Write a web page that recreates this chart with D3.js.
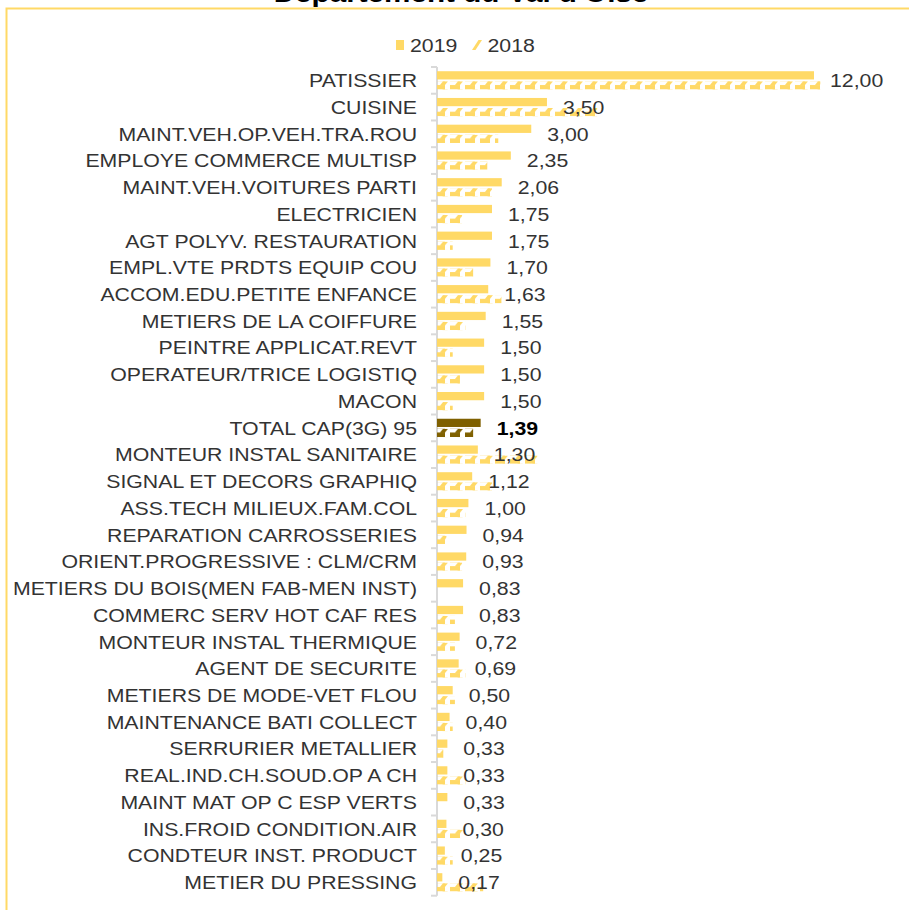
<!DOCTYPE html>
<html>
<head>
<meta charset="utf-8">
<script src="https://cdn.jsdelivr.net/npm/d3@7"></script>
<style>
  body { margin: 0; background: #fff; }
  svg { display: block; font-family: Arial, "Liberation Sans", sans-serif; }
</style>
</head>
<body>
<svg width="909" height="910"></svg>
<script>
// data
var categories = [
  "PATISSIER", "CUISINE", "MAINT.VEH.OP.VEH.TRA.ROU", "EMPLOYE COMMERCE MULTISP",
  "MAINT.VEH.VOITURES PARTI", "ELECTRICIEN", "AGT POLYV. RESTAURATION",
  "EMPL.VTE PRDTS EQUIP COU", "ACCOM.EDU.PETITE ENFANCE", "METIERS DE LA COIFFURE",
  "PEINTRE APPLICAT.REVT", "OPERATEUR/TRICE LOGISTIQ", "MACON", "TOTAL CAP(3G) 95",
  "MONTEUR INSTAL SANITAIRE", "SIGNAL ET DECORS GRAPHIQ", "ASS.TECH MILIEUX.FAM.COL",
  "REPARATION CARROSSERIES", "ORIENT.PROGRESSIVE : CLM/CRM",
  "METIERS DU BOIS(MEN FAB-MEN INST)", "COMMERC SERV HOT CAF RES",
  "MONTEUR INSTAL THERMIQUE", "AGENT DE SECURITE", "METIERS DE MODE-VET FLOU",
  "MAINTENANCE BATI COLLECT", "SERRURIER METALLIER", "REAL.IND.CH.SOUD.OP A CH",
  "MAINT MAT OP C ESP VERTS", "INS.FROID CONDITION.AIR", "CONDTEUR INST. PRODUCT",
  "METIER DU PRESSING"
];
var values2019 = [12.00, 3.50, 3.00, 2.35, 2.06, 1.75, 1.75, 1.70, 1.63, 1.55,
  1.50, 1.50, 1.50, 1.39, 1.30, 1.12, 1.00, 0.94, 0.93, 0.83,
  0.83, 0.72, 0.69, 0.50, 0.40, 0.33, 0.33, 0.33, 0.30, 0.25, 0.17];
var values2018 = [12.2, 5.1, 1.95, 1.6, 1.75, 0.8, 0.5, 1.15, 2.05, 0.9,
  0.5, 0.73, 0.5, 1.15, 3.2, 1.75, 0.9, 0.3, 0.8, 0,
  0.57, 0.57, 0.9, 0.57, 0.5, 0.2, 0.9, 0, 0.83, 0.5, 1.47];
var series = ["2019", "2018"];
var totalLabel = "TOTAL CAP(3G) 95";
var title = "Département du Val d'Oise";

var gold = "#FFD966", brown = "#7F6000", ink = "#333";
var sx = 1.12; // text in the reference is a bit wider than Arial

var svg = d3.select("svg");

// hatch patterns for 2018
var defs = svg.append("defs");
function hatch(id, color, h) {
  var p = defs.append("pattern")
      .attr("id", id)
      .attr("patternUnits", "userSpaceOnUse")
      .attr("width", 15).attr("height", h);
  p.append("rect").attr("x", 0).attr("y", h * 0.45).attr("width", 10).attr("height", h * 0.55).attr("fill", color);
  p.append("polygon")
      .attr("points", [[5, h * 0.45], [8, 0], [13, 0], [10, h * 0.45]].join(" "))
      .attr("fill", color);
}

var x = d3.scaleLinear().domain([0, 12]).range([437, 814]);
var y = d3.scaleBand().domain(categories).range([67, 895.7]).paddingInner(0).paddingOuter(0);
var ys = d3.scaleBand().domain(series).range([0, y.bandwidth()]).paddingInner(0.18).paddingOuter(0.42);

hatch("hatchGold", gold, ys.bandwidth());
hatch("hatchBrown", brown, ys.bandwidth());

// frame
svg.append("rect")
    .attr("x", 6.5).attr("y", 8.5)
    .attr("width", 1000).attr("height", 1000)
    .attr("fill", "none")
    .attr("stroke", gold)
    .attr("stroke-width", 2);

// title (cut at the top as in the reference)
svg.append("text")
    .attr("transform", "translate(461,2) scale(" + sx + ",1)")
    .attr("text-anchor", "middle")
    .attr("font-size", 26.5)
    .attr("font-weight", "bold")
    .attr("fill", "#000")
    .text(title);

// legend
var legend = svg.append("g").attr("font-size", 19).attr("fill", ink);
legend.append("rect").attr("x", 396).attr("y", 40).attr("width", 8).attr("height", 10).attr("fill", gold);
legend.append("text").attr("transform", "translate(410,51.5) scale(" + sx + ",1)").text(series[0]);
legend.append("polygon").attr("points", "472,50 475.5,50 482,40 478.5,40").attr("fill", gold);
legend.append("text").attr("transform", "translate(487.5,51.5) scale(" + sx + ",1)").text(series[1]);

// axis
var axis = svg.append("g").attr("transform", "translate(" + x(0) + ",0)");
axis.append("line")
    .attr("y1", y.range()[0]).attr("y2", y.range()[1])
    .attr("stroke", "#D9D9D9").attr("stroke-width", 2);
axis.selectAll(".tick")
    .data(categories.map(function(c) { return y(c); }).concat([y.range()[1]]))
    .enter().append("line")
    .attr("x1", -6).attr("x2", 0)
    .attr("y1", function(d) { return d; }).attr("y2", function(d) { return d; })
    .attr("stroke", "#D9D9D9").attr("stroke-width", 2);

// category labels
svg.append("g").selectAll("text")
    .data(categories)
    .enter().append("text")
    .attr("transform", function(d) { return "translate(417," + (y(d) + y.bandwidth() / 2 + 6.8) + ") scale(" + sx + ",1)"; })
    .attr("text-anchor", "end")
    .attr("font-size", 19)
    .attr("fill", ink)
    .text(function(d) { return d; });

var rows = categories.map(function(c, i) {
  return { cat: c, v19: values2019[i], v18: values2018[i], total: c === totalLabel };
});

// 2019 bars
svg.append("g").selectAll("rect")
    .data(rows)
    .enter().append("rect")
    .attr("x", x(0))
    .attr("y", function(d) { return y(d.cat) + ys("2019"); })
    .attr("width", function(d) { return x(d.v19) - x(0); })
    .attr("height", ys.bandwidth())
    .attr("fill", function(d) { return d.total ? brown : gold; });

// 2018 bars, each in its own group so the hatch lines up with the bar
svg.append("g").selectAll("g")
    .data(rows)
    .enter().append("g")
    .attr("transform", function(d) { return "translate(0," + (y(d.cat) + ys("2018")) + ")"; })
    .append("rect")
    .attr("x", x(0))
    .attr("y", 0)
    .attr("width", function(d) { return x(d.v18) - x(0); })
    .attr("height", ys.bandwidth())
    .attr("fill", function(d) { return d.total ? "url(#hatchBrown)" : "url(#hatchGold)"; });

// value labels (2019)
var fmt = function(v) { return v.toFixed(2).replace(".", ","); };
svg.append("g").selectAll("text")
    .data(rows)
    .enter().append("text")
    .attr("transform", function(d) { return "translate(" + (x(d.v19) + 16) + "," + (y(d.cat) + y.bandwidth() / 2 + 6.8) + ") scale(" + sx + ",1)"; })
    .attr("font-size", 19)
    .attr("font-weight", function(d) { return d.total ? "bold" : "normal"; })
    .attr("fill", function(d) { return d.total ? "#000" : ink; })
    .text(function(d) { return fmt(d.v19); });
</script>
</body>
</html>
